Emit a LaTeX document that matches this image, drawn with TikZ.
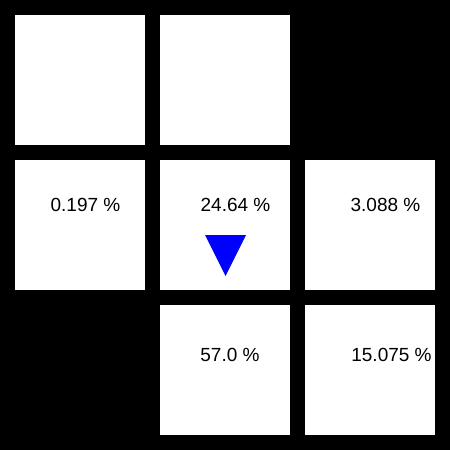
\documentclass[tikz,border=0pt]{standalone}
\usepackage{fontspec}
\setmainfont{Liberation Sans}
\begin{document}
\begin{tikzpicture}[x=1pt,y=-1pt,
  cell/.style={fill=white,draw=none,minimum size=130pt,inner sep=0pt,outer sep=0pt,anchor=north west},
  pct/.style={font=\fontsize{19}{19}\selectfont,inner sep=0pt,anchor=center}]
\fill[black] (0,0) rectangle (450,450);
\useasboundingbox (0,0) rectangle (450,450);
\node[cell] (c11) at (15,15) {};
\node[cell] (c12) at (160,15) {};
\node[cell] (c21) at (15,160) {};
\node[cell] (c22) at (160,160) {};
\node[cell] (c23) at (305,160) {};
\node[cell] (c32) at (160,305) {};
\node[cell] (c33) at (305,305) {};
\node[pct] (t21) at (85.5,205) {0.197 \%};
\node[pct] (t22) at (235.5,205) {24.64 \%};
\node[pct] (t23) at (385.5,205) {3.088 \%};
\node[pct] (t32) at (230,355) {57.0 \%};
\node[pct] (t33) at (391.5,355) {15.075 \%};
\fill[blue] (205,235) -- (246,235) -- (225.5,276) -- cycle;
\end{tikzpicture}
\end{document}
